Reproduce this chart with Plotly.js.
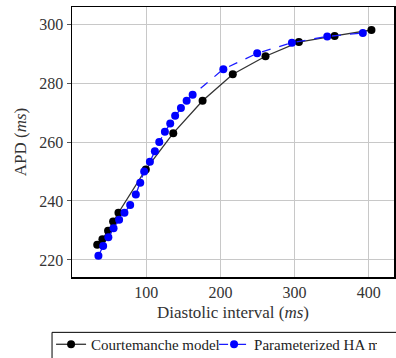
<!DOCTYPE html>
<html><head><meta charset="utf-8">
<script src="https://cdn.plot.ly/plotly-3.0.1.min.js"></script>
<style>body{margin:0;padding:0;background:#fff}#chart{width:396px;height:358px}</style>
</head><body><div id="chart"></div>
<script>
const courteDI  = [34, 41, 48.6, 55.4, 62.6, 99.5, 136.5, 176, 216.7, 260.8, 305.8, 354, 403.6];
const courteAPD = [225.1, 227, 229.9, 233, 236, 250.7, 263, 274, 283, 289.1, 293.9, 296, 298];
const haDI  = [35.6, 42, 49, 56, 63.5, 70.7, 78.4, 86, 92, 97.3, 105, 111.7, 117.6, 125.2, 132.4, 139, 146.8, 154.5, 162.6, 204, 249.6, 296.4, 344, 392];
const haAPD = [221.4, 224.7, 227.7, 230.7, 233.6, 236, 238.6, 242.2, 246.2, 250, 253.3, 256.9, 260, 263.5, 266.3, 268.9, 271.5, 274, 276, 284.7, 290.1, 293.7, 295.8, 297];
const xTicks = [100, 200, 300, 400];
const yTicks = [220, 240, 260, 280, 300];

const font = {family: '"Liberation Serif", "DejaVu Serif", serif', color: '#333', size: 16};
const traces = [
  {x: courteDI, y: courteAPD, name: 'Courtemanche model', mode: 'lines+markers',
   line: {color: '#333', width: 1.3}, marker: {color: '#000', size: 8}},
  {x: haDI, y: haAPD, name: 'Parameterized HA model', mode: 'lines+markers',
   line: {color: '#1a1aff', width: 1.3, dash: 'dash'}, marker: {color: '#0000ff', size: 8}}
];
const layout = {
  width: 396, height: 358,
  margin: {l: 72, r: 2, t: 7, b: 81, autoexpand: false},
  paper_bgcolor: '#fff', plot_bgcolor: '#fff',
  font: font,
  showlegend: true,
  legend: {orientation: 'h', x: -0.065, xanchor: 'left', y: -0.189, yanchor: 'top',
           bgcolor: 'rgba(0,0,0,0)', borderwidth: 0, font: {size: 15, color: '#222'}, itemwidth: 30,
           entrywidth: 118, tracegroupgap: 0},
  shapes: [{type: 'rect', xref: 'paper', yref: 'paper', x0: -0.062, x1: 1.2, y0: -0.205, y1: -0.4,
            line: {color: '#000', width: 1}, fillcolor: 'rgba(0,0,0,0)', layer: 'above'}],
  xaxis: {range: [0, 434], tickvals: xTicks, ticktext: xTicks.map(String),
          showgrid: true, gridcolor: '#c8c8c8', gridwidth: 1,
          showline: true, linecolor: '#000', linewidth: 1.5, mirror: true,
          ticks: '', zeroline: false,
          title: {text: 'Diastolic interval (<i>ms</i>)', font: {size: 17}, standoff: 6}},
  yaxis: {range: [214.2, 305.8], tickvals: yTicks, ticktext: yTicks.map(String),
          showgrid: true, gridcolor: '#c8c8c8', gridwidth: 1,
          showline: true, linecolor: '#000', linewidth: 1.5, mirror: true,
          ticks: 'outside', ticklen: 4, tickcolor: '#555', zeroline: false,
          title: {text: 'APD (<i>ms</i>)', font: {size: 17}, standoff: 8}}
};
Plotly.newPlot('chart', traces, layout, {displayModeBar: false, staticPlot: true});
</script></body></html>
